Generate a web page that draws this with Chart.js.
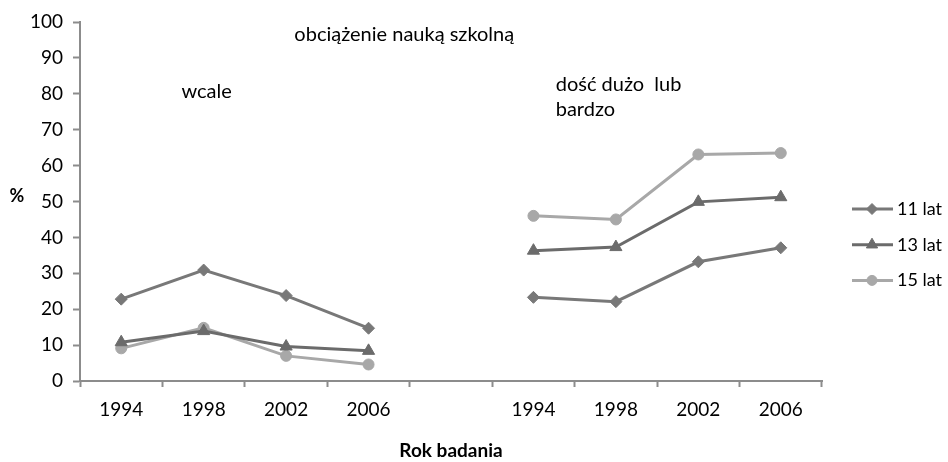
<!DOCTYPE html>
<html lang="pl">
<head>
  <meta charset="UTF-8">
  <title>Obciążenie nauką szkolną</title>
  <style>
    html, body { margin: 0; padding: 0; background: #fff; }
    #wrap { width: 948px; height: 462px; position: relative; }
  </style>
</head>
<body>
  <div id="wrap"><canvas id="myChart"></canvas></div>

  <script src="https://cdn.jsdelivr.net/npm/chart.js"></script>
  <script>
    // categories: two groups of survey years, one empty slot between them
    const years = ['1994', '1998', '2002', '2006', '', '1994', '1998', '2002', '2006'];
    const seriesNames = ['11 lat', '13 lat', '15 lat'];
    const lat11 = [22.8, 30.9, 23.8, 14.7, null, 23.3, 22.1, 33.2, 37.1];
    const lat13 = [10.8, 13.9, 9.6, 8.4, null, 36.3, 37.3, 49.9, 51.2];
    const lat15 = [9.1, 14.8, 7.0, 4.6, null, 46.0, 45.0, 63.1, 63.5];
    const yTicks = [0, 10, 20, 30, 40, 50, 60, 70, 80, 90, 100];

    const FONT = 'Lato, "Open Sans", sans-serif';
    const axisGrey = '#8c8c8c';

    const styles = [
      { color: '#787878', point: 'rectRot', r: 6 },
      { color: '#6b6b6b', point: 'triangle', r: 7 },
      { color: '#a8a8a8', point: 'circle', r: 5.5 }
    ];

    const datasets = [lat11, lat13, lat15].map((vals, i) => ({
      label: seriesNames[i],
      data: vals,
      borderColor: styles[i].color,
      backgroundColor: styles[i].color,
      borderWidth: 3,
      pointStyle: styles[i].point,
      pointRadius: styles[i].r,
      pointHoverRadius: styles[i].r,
      pointBorderWidth: 1,
      spanGaps: false,
      tension: 0
    }));

    // texts placed on the plot in data coordinates (category index, percent)
    const notes = [
      { text: 'obciążenie nauką szkolną', x: 2.10, y: 96.6 },
      { text: 'wcale', x: 0.73, y: 80.6 },
      { text: 'dość dużo  lub', x: 5.27, y: 82.6 },
      { text: 'bardzo', x: 5.27, y: 75.7 }
    ];

    const overlay = {
      id: 'overlay',
      afterDraw(chart) {
        const ctx = chart.ctx;
        const xs = chart.scales.x, ys = chart.scales.y;
        const area = chart.chartArea;
        ctx.save();
        ctx.fillStyle = '#000';
        ctx.textBaseline = 'middle';
        ctx.textAlign = 'left';
        ctx.font = '20px ' + FONT;
        notes.forEach(n => {
          ctx.fillText(n.text, xs.getPixelForValue(n.x), ys.getPixelForValue(n.y));
        });

        // "%" axis caption, horizontal
        ctx.font = 'bold 18px ' + FONT;
        ctx.textAlign = 'center';
        ctx.fillText('%', area.left - 63, ys.getPixelForValue(51.5));

        // legend: line with marker, label on the right
        ctx.font = '18px ' + FONT;
        ctx.textAlign = 'left';
        const lx = area.right + 30;
        chart.data.datasets.forEach((ds, i) => {
          const ly = area.top + 187 + i * 35.7;
          ctx.strokeStyle = ds.borderColor;
          ctx.lineWidth = 3;
          ctx.beginPath();
          ctx.moveTo(lx, ly);
          ctx.lineTo(lx + 41, ly);
          ctx.stroke();
          ctx.fillStyle = ds.backgroundColor;
          ctx.strokeStyle = ds.borderColor;
          ctx.lineWidth = 1;
          Chart.helpers.drawPoint(ctx, { pointStyle: ds.pointStyle, radius: ds.pointRadius - 0.5, borderWidth: 1 }, lx + 20, ly);
          ctx.fillStyle = '#000';
          ctx.fillText(ds.label, lx + 45, ly);
        });
        ctx.restore();
      }
    };

    const ctx = document.getElementById('myChart').getContext('2d');
    new Chart(ctx, {
      type: 'line',
      data: { labels: years, datasets: datasets },
      options: {
        responsive: true,
        maintainAspectRatio: false,
        animation: false,
        layout: { padding: { left: 0, right: 126, top: 22, bottom: 0 } },
        plugins: {
          legend: { display: false },
          tooltip: { enabled: false }
        },
        scales: {
          x: {
            offset: true,
            grid: {
              offset: true,
              drawOnChartArea: false,
              drawTicks: true,
              tickLength: 6,
              tickWidth: 2,
              tickColor: axisGrey
            },
            border: { color: axisGrey, width: 2 },
            ticks: {
              color: '#000',
              font: { family: FONT, size: 19 },
              padding: 11,
              maxRotation: 0,
              autoSkip: false
            },
            title: {
              display: true,
              text: 'Rok badania',
              color: '#000',
              font: { family: FONT, size: 19, weight: 'bold' },
              padding: { top: 0, bottom: 0 }
            },
            afterFit(scale) { scale.height = 81; }
          },
          y: {
            min: 0,
            max: 100,
            afterBuildTicks(scale) { scale.ticks = yTicks.map(v => ({ value: v })); },
            grid: {
              drawOnChartArea: false,
              drawTicks: true,
              tickLength: 7,
              tickWidth: 2,
              tickColor: axisGrey
            },
            border: { color: axisGrey, width: 2 },
            ticks: {
              color: '#000',
              font: { family: FONT, size: 19 },
              padding: 10
            },
            afterFit(scale) { scale.width = 80; }
          }
        }
      },
      plugins: [overlay]
    });
  </script>
</body>
</html>
